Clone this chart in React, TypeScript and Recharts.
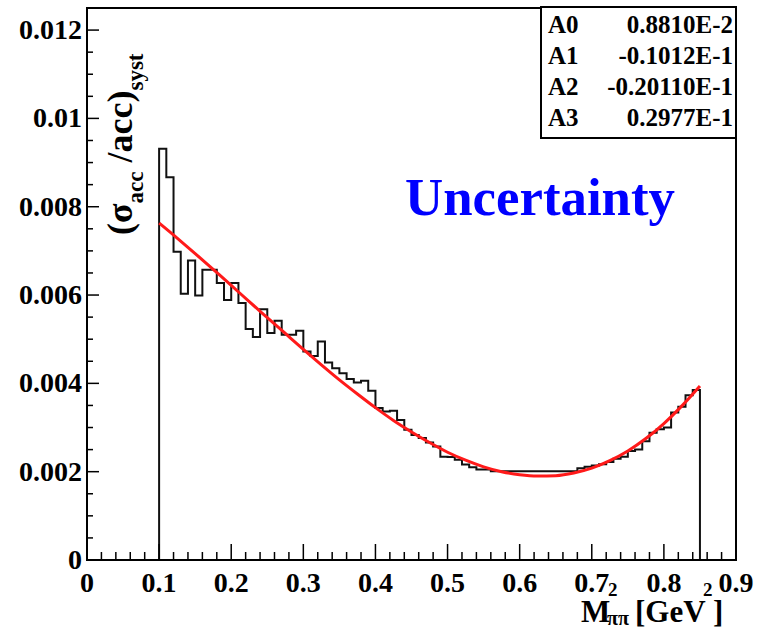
import React from "react";
import { ComposedChart, Line, XAxis, YAxis, ReferenceArea } from "recharts";

// histogram bins: lower edge of each 0.01-wide bin in M^2 (GeV^2)
const binLow = [
  0.10, 0.11, 0.12, 0.13, 0.14, 0.15, 0.16, 0.17, 0.18, 0.19,
  0.20, 0.21, 0.22, 0.23, 0.24, 0.25, 0.26, 0.27, 0.28, 0.29,
  0.30, 0.31, 0.32, 0.33, 0.34, 0.35, 0.36, 0.37, 0.38, 0.39,
  0.40, 0.41, 0.42, 0.43, 0.44, 0.45, 0.46, 0.47, 0.48, 0.49,
  0.50, 0.51, 0.52, 0.53, 0.54, 0.55, 0.56, 0.57, 0.58, 0.59,
  0.60, 0.61, 0.62, 0.63, 0.64, 0.65, 0.66, 0.67, 0.68, 0.69,
  0.70, 0.71, 0.72, 0.73, 0.74, 0.75, 0.76, 0.77, 0.78, 0.79,
  0.80, 0.81, 0.82, 0.83, 0.84,
];
const binHigh = 0.85;

// bin contents, in units of 1e-3
const histE3 = [
  9.31, 8.67, 6.98, 6.03, 6.78, 5.99, 6.57, 6.57, 6.27, 5.89,
  6.27, 5.82, 5.23, 5.05, 5.68, 5.14, 5.42, 5.10, 5.10, 5.19,
  4.72, 4.62, 4.95, 4.47, 4.34, 4.23, 4.10, 4.02, 4.06, 3.83,
  3.44, 3.36, 3.38, 3.17, 2.95, 2.83, 2.76, 2.66, 2.57, 2.34,
  2.33, 2.27, 2.16, 2.10, 2.05, 2.05, 2.01, 2.01, 2.01, 2.01,
  2.01, 2.01, 2.01, 2.01, 2.01, 2.01, 2.01, 2.01, 2.08, 2.11,
  2.14, 2.17, 2.22, 2.29, 2.34, 2.47, 2.50, 2.69, 2.88, 2.96,
  3.00, 3.34, 3.47, 3.73, 3.85,
];

// red fit curve (units of 1e-3)
const fitX = [
  0.1, 0.125, 0.15, 0.175, 0.2, 0.225, 0.25, 0.275, 0.3, 0.325, 0.35,
  0.375, 0.4, 0.425, 0.45, 0.475, 0.5, 0.525, 0.55, 0.575, 0.6,
  0.625, 0.65, 0.675, 0.7, 0.725, 0.75, 0.775, 0.8, 0.825, 0.85,
];
const fitE3 = [
  7.63, 7.29, 6.94, 6.58, 6.22, 5.85, 5.49, 5.13, 4.77, 4.42, 4.08,
  3.76, 3.45, 3.16, 2.90, 2.66, 2.44, 2.26, 2.11, 2.00, 1.93,
  1.90, 1.91, 1.97, 2.08, 2.25, 2.47, 2.75, 3.09, 3.49, 3.94,
];

const fitParams = [
  { name: "A0", value: "0.8810E-2" },
  { name: "A1", value: "-0.1012E-1" },
  { name: "A2", value: "-0.20110E-1" },
  { name: "A3", value: "0.2977E-1" },
];

const xMajor = [0, 0.1, 0.2, 0.3, 0.4, 0.5, 0.6, 0.7, 0.8, 0.9];
const xLabels = ["0", "0.1", "0.2", "0.3", "0.4", "0.5", "0.6", "0.7", "0.8", "0.9"];
const yMajor = [0, 0.002, 0.004, 0.006, 0.008, 0.01, 0.012];
const yLabels = ["0", "0.002", "0.004", "0.006", "0.008", "0.01", "0.012"];

// 5 minor divisions on x, 4 on y (ROOT style)
const xTicks: number[] = [];
for (let i = 0; i <= 45; i++) xTicks.push(+(i * 0.02).toFixed(4));
const yTicks: number[] = [];
for (let i = 0; i <= 24; i++) yTicks.push(+(i * 0.0005).toFixed(6));

const histPoints = [
  { x: binLow[0], y: 0 },
  ...binLow.map((b, i) => ({ x: b, y: histE3[i] / 1000 })),
  { x: binHigh, y: histE3[histE3.length - 1] / 1000 },
  { x: binHigh, y: 0 },
];
const fitPoints = fitX.map((x, i) => ({ x, y: fitE3[i] / 1000 }));

const FONT = '"Liberation Serif", "Times New Roman", serif';

const findIdx = (arr: number[], v: number) => arr.findIndex((m) => Math.abs(m - v) < 1e-9);

const XTick = (props: any) => {
  const { x, y, payload } = props;
  const idx = findIdx(xMajor, payload.value);
  const major = idx >= 0;
  return (
    <g>
      <line x1={x} y1={y} x2={x} y2={y - (major ? 16 : 8)} stroke="#000" strokeWidth={1.5} />
      {major && (
        <text x={x} y={y + 32} textAnchor="middle" fontFamily={FONT} fontWeight="bold" fontSize={28} fill="#000">
          {xLabels[idx]}
        </text>
      )}
    </g>
  );
};

const YTick = (props: any) => {
  const { x, y, payload } = props;
  const idx = findIdx(yMajor, payload.value);
  const major = idx >= 0;
  return (
    <g>
      <line x1={x} y1={y} x2={x + (major ? 12 : 6)} y2={y} stroke="#000" strokeWidth={1.5} />
      {major && (
        <text x={x - 5} y={y + 9} textAnchor="end" fontFamily={FONT} fontWeight="bold" fontSize={28} fill="#000">
          {yLabels[idx]}
        </text>
      )}
    </g>
  );
};

export default function App() {
  return (
    <div style={{ position: "absolute", left: 0, top: 0, width: 760, height: 634, background: "#fff" }}>
      <ComposedChart width={760} height={634} margin={{ top: 8, right: 24, bottom: 0, left: 0 }}>
        <XAxis
          type="number"
          dataKey="x"
          domain={[0, 0.9]}
          ticks={xTicks}
          interval={0}
          tickSize={0}
          tickMargin={0}
          tickLine={false}
          tick={<XTick />}
          height={74}
          axisLine={{ stroke: "#000", strokeWidth: 2 }}
          allowDataOverflow
        />
        <YAxis
          type="number"
          domain={[0, 0.0125]}
          ticks={yTicks}
          interval={0}
          tickSize={0}
          tickMargin={0}
          tickLine={false}
          tick={<YTick />}
          width={87}
          axisLine={{ stroke: "#000", strokeWidth: 2 }}
          allowDataOverflow
        />
        <ReferenceArea x1={0} x2={0.9} y1={0} y2={0.0125} fill="none" stroke="#000" strokeWidth={2} />
        <Line
          data={histPoints}
          dataKey="y"
          type="stepAfter"
          stroke="#111"
          strokeWidth={2}
          dot={false}
          isAnimationActive={false}
        />
        <Line
          data={fitPoints}
          dataKey="y"
          type="monotone"
          stroke="#ff1a1a"
          strokeWidth={3}
          dot={false}
          isAnimationActive={false}
        />
      </ComposedChart>

      <svg
        width={760}
        height={634}
        style={{ position: "absolute", left: 0, top: 0, pointerEvents: "none" }}
        fontFamily={FONT}
        fontWeight="bold"
      >
        {/* fit parameter box */}
        <rect x={541} y={7} width={195} height={131} fill="#fff" stroke="#000" strokeWidth={2} />
        {fitParams.map((p, i) => (
          <g key={p.name}>
            <text x={548} y={33 + i * 31} fontSize={25} fill="#000">{p.name}</text>
            <text x={733} y={33 + i * 31} fontSize={25} fill="#000" textAnchor="end">{p.value}</text>
          </g>
        ))}

        <text x={405} y={215} fontSize={52} fill="#0000ff" textLength={270} lengthAdjust="spacingAndGlyphs">
          Uncertainty
        </text>

        {/* y axis title */}
        <text transform="translate(132,235) rotate(-90)" fontSize={36} fill="#000">
          (σ<tspan dy={11} fontSize={23}>acc</tspan>
          <tspan dy={-11}> /acc)</tspan>
          <tspan dy={11} fontSize={23}>syst</tspan>
        </text>

        {/* x axis title */}
        <text x={581} y={622} fontSize={31} fill="#000">M</text>
        <text x={608} y={596} fontSize={19} fill="#000">2</text>
        <text x={607} y={625} fontSize={20} fill="#000">ππ</text>
        <text x={635} y={622} fontSize={31} fill="#000">[GeV</text>
        <text x={703} y={596} fontSize={19} fill="#000">2</text>
        <text x={713} y={622} fontSize={31} fill="#000">]</text>
      </svg>
    </div>
  );
}
